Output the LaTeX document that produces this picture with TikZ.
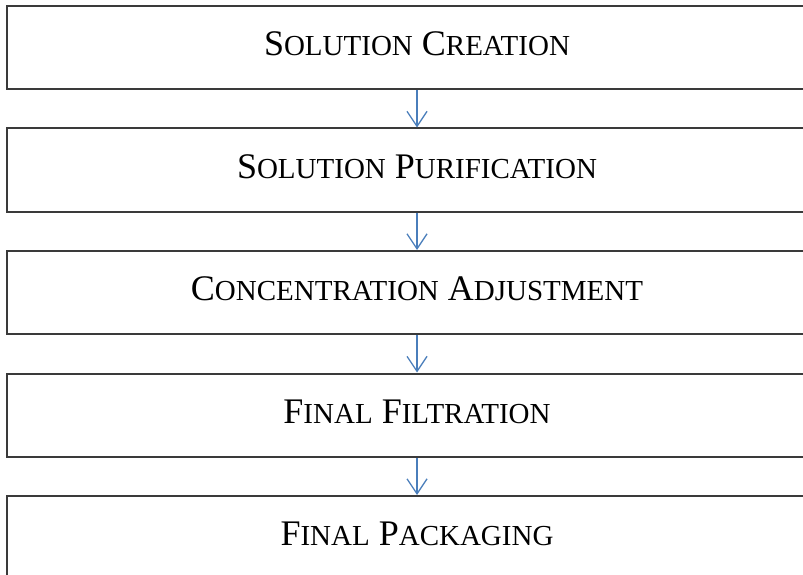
\documentclass[tikz,border=0pt]{standalone}
\usepackage{fontspec}
\setmainfont{Liberation Serif}
\usetikzlibrary{arrows.meta}

\definecolor{flowblue}{HTML}{4A7EBB}
\definecolor{boxgray}{HTML}{3A3A3A}
\newcommand{\fsc}[1]{{\fontsize{29}{32}\selectfont #1}}

\begin{document}
\begin{tikzpicture}[
        x=1pt,
        y=-1pt,
        stage/.style={
            draw=boxgray,
            line width=2pt,
            rectangle,
            minimum width=820pt,
            minimum height=83pt,
            inner sep=0pt,
            text depth=7pt,
            font=\fontsize{36}{40}\selectfont,
        },
        link-flow/.style={
            draw=flowblue,
            line width=1.3pt,
            -{Straight Barb[length=15pt,width=20pt]},
        },
    ]

    % Page frame, the boxes run past its right edge.
    \clip (0, 0) rectangle (803, 575);

    % Stages.
    \foreach \i/\txt in {
        1/S\fsc{OLUTION} C\fsc{REATION},
        2/S\fsc{OLUTION} P\fsc{URIFICATION},
        3/C\fsc{ONCENTRATION} A\fsc{DJUSTMENT},
        4/F\fsc{INAL} F\fsc{ILTRATION},
        5/F\fsc{INAL} P\fsc{ACKAGING}}
    \node[stage] (s\i) at (417, {47.5 + (\i - 1)*122.5}) {\txt};

    % Flow arrows.
    \foreach \a/\b in {1/2, 2/3, 3/4, 4/5}
    \draw[link-flow] (s\a) -- (s\b);
\end{tikzpicture}
\end{document}
